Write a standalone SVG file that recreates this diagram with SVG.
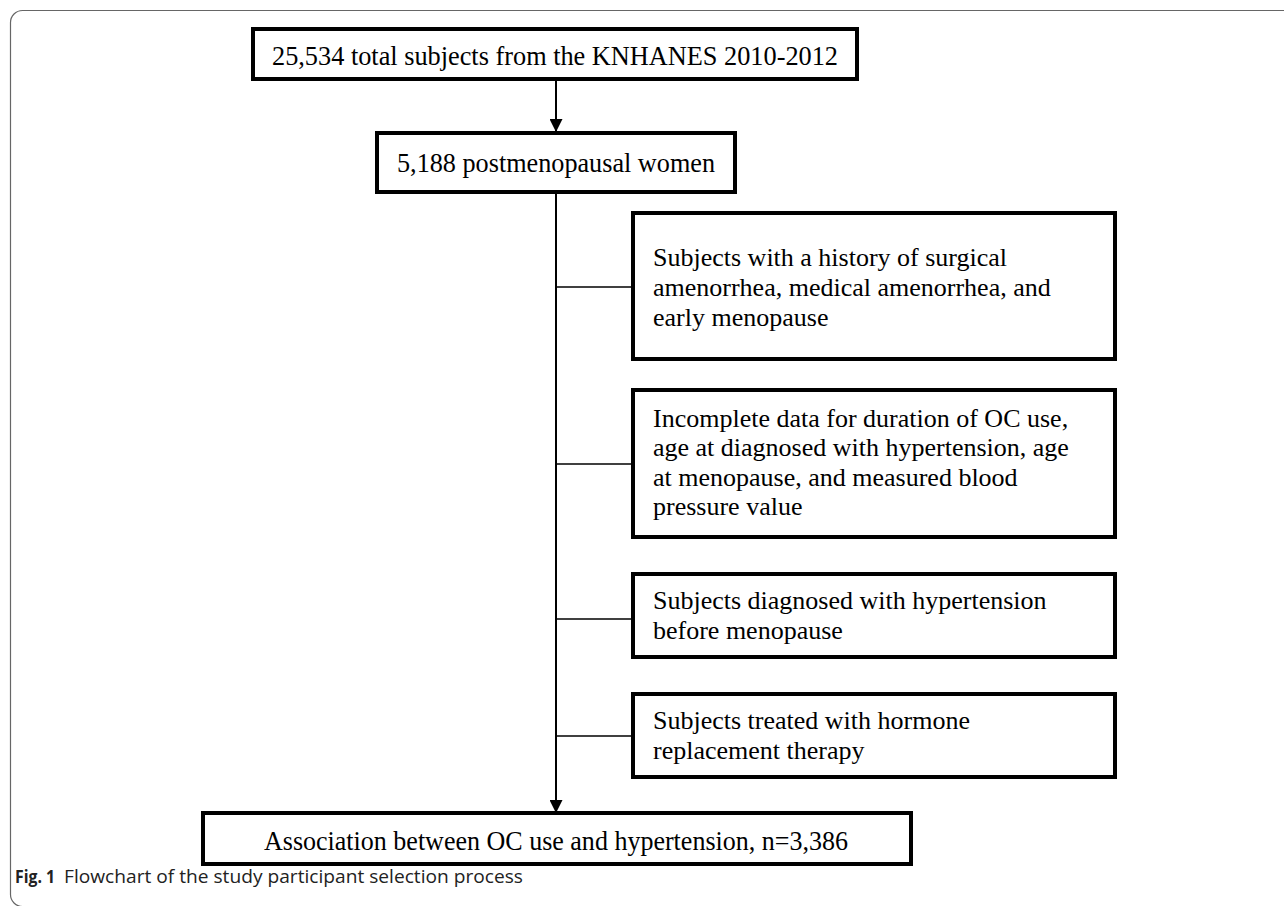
<svg xmlns="http://www.w3.org/2000/svg" width="1284" height="906" viewBox="0 0 1284 906">
<defs>
<marker id="arr" viewBox="0 0 13 13" refX="12" refY="6.5" markerWidth="13" markerHeight="13" markerUnits="userSpaceOnUse" orient="auto">
<path d="M0,0 L13,6.5 L0,13 Z" fill="#000"/>
</marker>
<style>
.box{fill:#fff;stroke:#000;stroke-width:4}
.t{font-family:"Liberation Serif","Times New Roman",serif;font-size:26px;fill:#000}
.tm{font-family:"Liberation Serif","Times New Roman",serif;font-size:28px;fill:#000;text-anchor:middle}
.ln{stroke:#000;fill:none}
.cap{font-family:"Open Sans","Noto Sans",sans-serif;font-size:18px;fill:#222}
</style>
</defs>
<rect x="0" y="0" width="1284" height="906" fill="#fff"/>
<rect x="10.5" y="10.5" width="1300" height="896" rx="12" ry="12" fill="none" stroke="#666" stroke-width="1.2"/>
<g id="connectors">
<line class="ln" x1="556" y1="79" x2="556" y2="131" stroke-width="2" marker-end="url(#arr)"/>
<line class="ln" x1="556" y1="192" x2="556" y2="812" stroke-width="2" marker-end="url(#arr)"/>
<line class="ln" x1="556" y1="287" x2="633" y2="287" stroke-width="1.6"/>
<line class="ln" x1="556" y1="464" x2="633" y2="464" stroke-width="1.6"/>
<line class="ln" x1="556" y1="619" x2="633" y2="619" stroke-width="1.6"/>
<line class="ln" x1="556" y1="736" x2="633" y2="736" stroke-width="1.6"/>
</g>
<g id="n_total">
<rect class="box" x="253" y="29" width="604" height="50"/>
<text class="tm" x="555" y="65" textLength="566" lengthAdjust="spacingAndGlyphs">25,534 total subjects from the KNHANES 2010-2012</text>
</g>
<g id="n_postmeno">
<rect class="box" x="377" y="133" width="358" height="59"/>
<text class="tm" x="556" y="172" textLength="318" lengthAdjust="spacingAndGlyphs">5,188 postmenopausal women</text>
</g>
<g id="x_surgical">
<rect class="box" x="633" y="213" width="482" height="146"/>
<text class="t" x="653" y="266">Subjects with a history of surgical</text>
<text class="t" x="653" y="296">amenorrhea, medical amenorrhea, and</text>
<text class="t" x="653" y="326">early menopause</text>
</g>
<g id="x_incomplete">
<rect class="box" x="633" y="390" width="482" height="147"/>
<text class="t" x="653" y="427">Incomplete data for duration of OC use,</text>
<text class="t" x="653" y="456">age at diagnosed with hypertension, age</text>
<text class="t" x="653" y="486">at menopause, and measured blood</text>
<text class="t" x="653" y="515">pressure value</text>
</g>
<g id="x_htn">
<rect class="box" x="633" y="574" width="482" height="83"/>
<text class="t" x="653" y="609">Subjects diagnosed with hypertension</text>
<text class="t" x="653" y="639">before menopause</text>
</g>
<g id="x_hrt">
<rect class="box" x="633" y="694" width="482" height="83"/>
<text class="t" x="653" y="729">Subjects treated with hormone</text>
<text class="t" x="653" y="759">replacement therapy</text>
</g>
<g id="n_final">
<rect class="box" x="203" y="813" width="708" height="51"/>
<text class="tm" x="556" y="850" textLength="584" lengthAdjust="spacingAndGlyphs">Association between OC use and hypertension, n=3,386</text>
</g>
<g id="caption">
<text class="cap" x="15" y="883" font-weight="bold" fill="#111" textLength="40" lengthAdjust="spacingAndGlyphs">Fig. 1</text>
<text class="cap" x="64" y="883" textLength="459" lengthAdjust="spacingAndGlyphs">Flowchart of the study participant selection process</text>
</g>
</svg>
